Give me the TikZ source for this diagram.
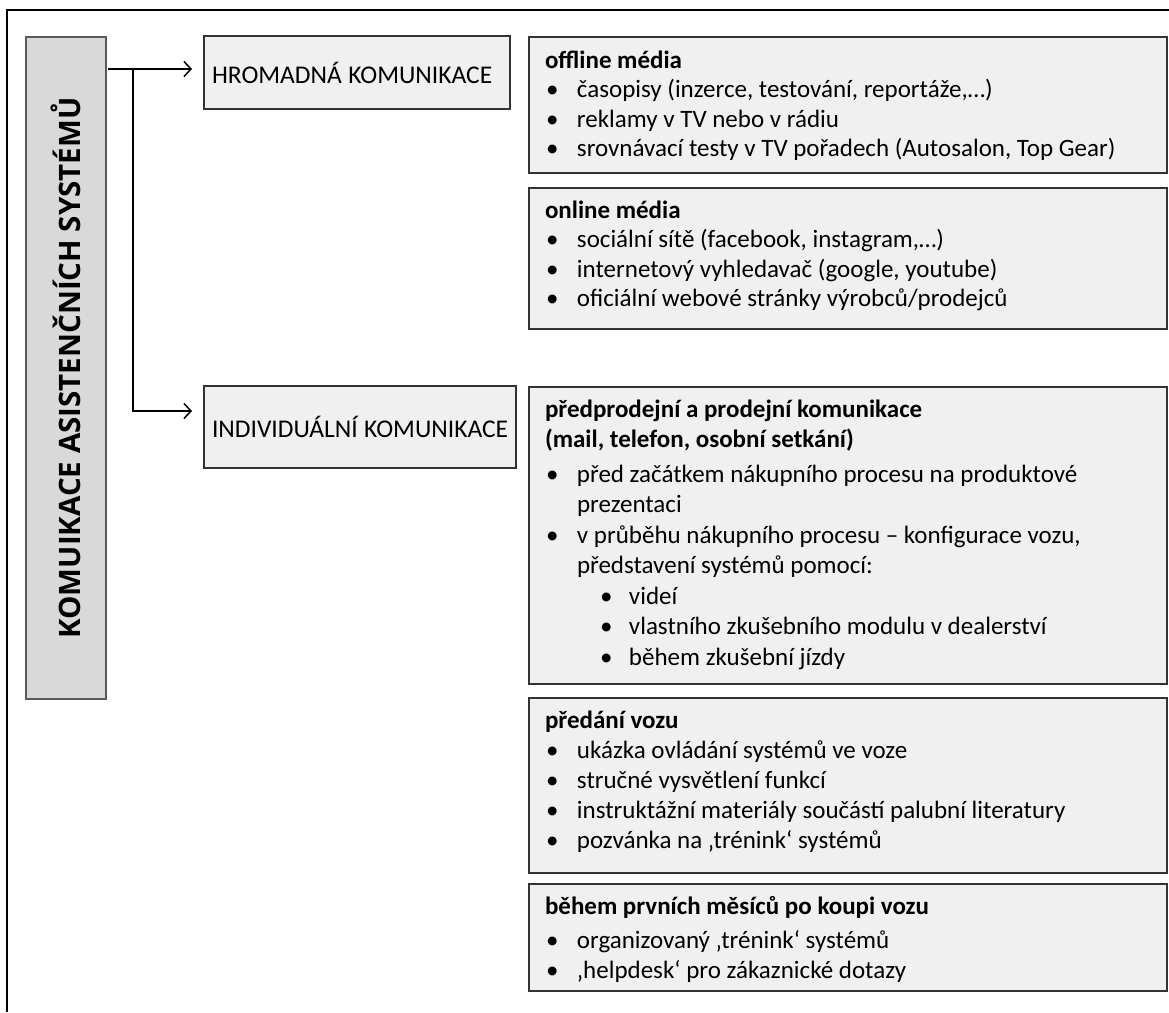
\documentclass[tikz,border=0pt]{standalone}
\usepackage{fontspec}
\setmainfont{Carlito}
\newfontfamily\sidefont{Open Sans}
\usetikzlibrary{arrows.meta}

\definecolor{sidefill}{HTML}{D9D9D9}
\definecolor{panelfill}{HTML}{F0F0F0}
\definecolor{edge}{HTML}{333333}
\definecolor{sideedge}{HTML}{5A5A5A}

% bullet items: first level and second level (\newline keeps the hanging indent)
\newcommand\itm[1]{\par\noindent\hangindent=32pt\hangafter=1\makebox[32pt][l]{\kern1pt\textbullet}#1}
\newcommand\subitm[1]{\par\noindent\hangindent=84pt\hangafter=1\hspace*{55pt}\makebox[29pt][l]{\textbullet}#1}
% panel body: fixed height #1, line pitch #2, first baseline #3 below the top edge
\newcommand\panelbody[4]{\parbox[c][#1][t]{606pt}{\raggedright
  \fontsize{25}{#2}\selectfont\noindent\rule{0pt}{#3}#4\par}}

\begin{document}
\begin{tikzpicture}[x=1pt,y=-1pt,
  every node/.style={inner sep=0pt, outer sep=0pt},
  sidebox/.style={draw=sideedge, fill=sidefill, line width=1.3pt, rotate=90,
    minimum width=662pt, minimum height=80pt,
    font=\sidefont\bfseries\fontsize{29.5}{34}\selectfont},
  labelbox/.style={draw=edge, fill=panelfill, line width=1.3pt, anchor=north west,
    inner xsep=8pt, text width=#1, align=left, font=\fontsize{25.5}{30}\selectfont},
  panel/.style={draw=edge, fill=panelfill, line width=1.3pt, anchor=north west,
    inner xsep=16pt, inner ysep=0pt},
  arr/.style={line width=1.5pt, -{Straight Barb[length=7pt,width=15pt,line width=1.5pt]},
    shorten >=12pt}
]
\useasboundingbox (0,0) rectangle (1169,1012);

% outer frame (top and left edges only)
\draw[line width=1.5pt] (7,1012) -- (7,10) -- (1169,10);

% vertical title
\node[sidebox] (main) at (66,368) {KOMUIKACE ASISTENČNÍCH SYSTÉMŮ};

% communication types
\node[labelbox=290pt, minimum height=73pt] (hrom) at (204,36) {\mbox{HROMADNÁ\kern-2pt\ KOMUNIKACE}};
\node[labelbox=296pt, minimum height=82pt] (indiv) at (204,386) {\mbox{INDIVIDUÁLNÍ\kern-2pt\ KOMUNIKACE}};

% mass communication panels
\node[panel] (offline) at (529,37) {\panelbody{136pt}{29.5pt}{31pt}{%
  \textbf{offline média}
  \itm{časopisy (inzerce, testování, reportáže,…)}
  \itm{reklamy v TV nebo v rádiu}
  \itm{srovnávací testy v TV pořadech (Autosalon, Top Gear)}}};
\node[panel] (online) at (529,188) {\panelbody{141pt}{29.5pt}{30pt}{%
  \textbf{online média}
  \itm{sociální sítě (facebook, instagram,…)}
  \itm{internetový vyhledavač (google, youtube)}
  \itm{oficiální webové stránky výrobců/prodejců}}};

% individual communication panels
\node[panel] (sales) at (529,387) {\panelbody{297pt}{30.5pt}{30pt}{%
  \textbf{předprodejní a prodejní komunikace}\par
  \noindent\textbf{(mail, telefon, osobní setkání)}\par\vspace{4pt}
  \itm{před začátkem nákupního procesu na produktové\newline prezentaci}
  \itm{v průběhu nákupního procesu – konfigurace vozu,\newline představení systémů pomocí:}
  \subitm{videí}
  \subitm{vlastního zkušebního modulu v dealerství}
  \subitm{během zkušební jízdy}}};
\node[panel] (handover) at (529,698) {\panelbody{175pt}{30pt}{30pt}{%
  \textbf{předání vozu}
  \itm{ukázka ovládání systémů ve voze}
  \itm{stručné vysvětlení funkcí}
  \itm{instruktážní materiály součástí palubní literatury}
  \itm{pozvánka na ‚trénink‘ systémů}}};
\node[panel] (after) at (529,884) {\panelbody{107pt}{29.5pt}{30pt}{%
  \textbf{během prvních měsíců po koupi vozu}\par\vspace{5pt}
  \itm{organizovaný ‚trénink‘ systémů}
  \itm{‚helpdesk‘ pro zákaznické dotazy}}};

% connectors
\coordinate (fork) at ([xshift=27pt,yshift=3.5pt]hrom.west -| main.south);
\draw[arr] ([xshift=2pt,yshift=3.5pt]hrom.west -| main.south) -- ([yshift=3.5pt]hrom.west);
\draw[arr] (fork) |- ([yshift=16pt]indiv.west);
\end{tikzpicture}
\end{document}
